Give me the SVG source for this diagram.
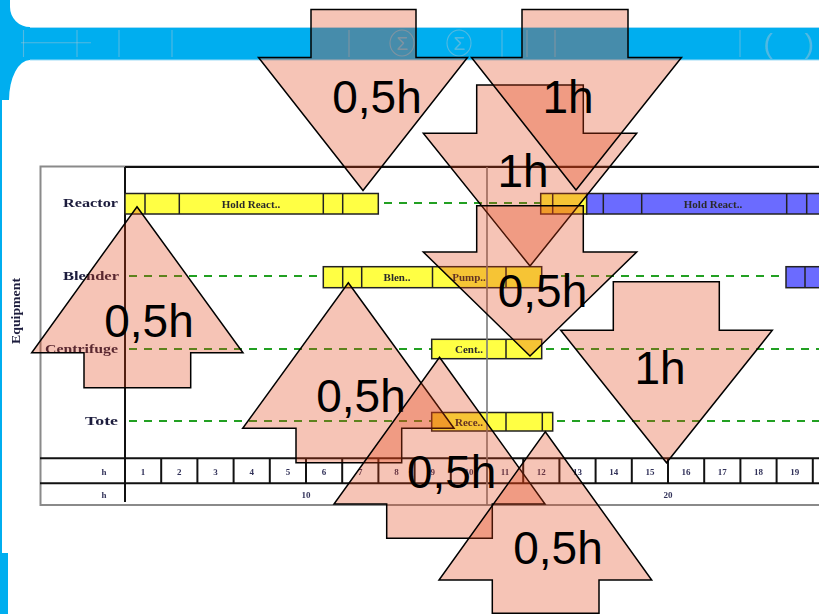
<svg xmlns="http://www.w3.org/2000/svg" width="819" height="614" viewBox="0 0 819 614">
  <defs>
    <style>
      .band-ghost { stroke: #b8c8d0; stroke-opacity: 0.45; stroke-width: 1.1; fill: none; }
      .ghost-txt { fill: #b8c8d0; fill-opacity: 0.45; font-family: "Liberation Sans", Arial, sans-serif; }
      .frame { fill: none; stroke: #8a8a8a; stroke-width: 2; }
      .grid { stroke: #111; stroke-width: 2; fill: none; }
      .now { stroke: #7a7a7a; stroke-width: 1.6; }
      .lane { stroke: #22a022; stroke-width: 2; stroke-dasharray: 8 7; }
      .bar-y { fill: #ffff44; stroke: #222; stroke-width: 1.5; }
      .bar-b { fill: #6b6bff; stroke: #222; stroke-width: 1.5; }
      .div { stroke: #222; stroke-width: 1.5; }
      .lbl { font-family: "Liberation Serif", "Times New Roman", serif; font-size: 13px; font-weight: bold; fill: #1c1c3c; filter: url(#soft); }
      .bartxt { font-family: "Liberation Serif", "Times New Roman", serif; font-size: 11px; font-weight: bold; fill: #2a2a2a; text-anchor: middle; filter: url(#soft); }
      .num { font-family: "Liberation Serif", "Times New Roman", serif; font-size: 9px; font-weight: bold; fill: #33335a; text-anchor: middle; filter: url(#soft); }
      .arrow { fill: rgb(226,64,19); fill-opacity: 0.31; stroke: #000; stroke-width: 1.5; stroke-linejoin: miter; }
      .dur { font-family: "Liberation Sans", Arial, sans-serif; font-size: 46px; fill: #000; text-anchor: middle; }
    </style>
    <filter id="soft" x="-10%" y="-30%" width="120%" height="160%">
      <feGaussianBlur stdDeviation="0.35"/>
    </filter>
  </defs>

  <!-- page background -->
  <rect x="0" y="0" width="819" height="614" fill="#ffffff"/>

  <!-- slide template: blue title band with rounded white panels -->
  <g id="template">
    <path d="M0,0 H10 V7 A20,20 0 0 0 30,27 H819 V60 H30 A21,40 0 0 0 9,100 H0 Z" fill="#00aeef"/>
    <rect x="0" y="100" width="2" height="453" fill="#00aeef"/>
    <rect x="0" y="553" width="8" height="61" fill="#00aeef"/>
    <line x1="30" y1="27.5" x2="819" y2="27.5" stroke="#9fdcf6" stroke-width="1"/>
    <line x1="30" y1="60" x2="819" y2="60" stroke="#9fdcf6" stroke-width="1"/>
    <!-- faded toolbar icons on the band -->
    <line class="band-ghost" x1="21" y1="42.7" x2="91" y2="42.7"/>
    <line class="band-ghost" x1="23.5" y1="30" x2="23.5" y2="57"/>
    <line class="band-ghost" x1="77" y1="30" x2="77" y2="57"/>
    <line class="band-ghost" x1="119" y1="30" x2="119" y2="57"/>
    <line class="band-ghost" x1="172" y1="30" x2="172" y2="57"/>
    <line class="band-ghost" x1="349" y1="30" x2="349" y2="57"/>
    <ellipse class="band-ghost" cx="402" cy="43" rx="12" ry="13"/>
    <ellipse class="band-ghost" cx="459" cy="43" rx="12" ry="13"/>
    <text class="ghost-txt" x="402" y="50" font-size="19" text-anchor="middle">Σ</text>
    <text class="ghost-txt" x="459" y="50" font-size="19" text-anchor="middle">Σ</text>
    <line class="band-ghost" x1="502" y1="30" x2="502" y2="57"/>
    <line class="band-ghost" x1="527" y1="30" x2="527" y2="57"/>
    <line class="band-ghost" x1="555" y1="30" x2="555" y2="57"/>
    <line class="band-ghost" x1="740" y1="30" x2="740" y2="57"/>
    <text class="ghost-txt" x="768" y="53" font-size="28" text-anchor="middle">(</text>
    <text class="ghost-txt" x="809" y="53" font-size="28" text-anchor="middle">)</text>
  </g>

  <!-- Gantt chart -->
  <g id="gantt">
    <!-- outer frame and axes -->
    <rect class="frame" x="40.5" y="166.5" width="800" height="338.5"/>
    <line class="grid" x1="125" y1="167" x2="819" y2="167"/>
    <line class="grid" x1="125" y1="167" x2="125" y2="502"/>
    <line class="grid" x1="40" y1="458.3" x2="819" y2="458.3"/>
    <line class="grid" x1="40" y1="483.3" x2="819" y2="483.3"/>

    <!-- hour cells -->
    <g id="hour-cells" class="grid">
      <line x1="161.2" y1="458.3" x2="161.2" y2="483.3"/>
      <line x1="197.4" y1="458.3" x2="197.4" y2="483.3"/>
      <line x1="233.6" y1="458.3" x2="233.6" y2="483.3"/>
      <line x1="269.8" y1="458.3" x2="269.8" y2="483.3"/>
      <line x1="306" y1="458.3" x2="306" y2="483.3"/>
      <line x1="342.2" y1="458.3" x2="342.2" y2="483.3"/>
      <line x1="378.4" y1="458.3" x2="378.4" y2="483.3"/>
      <line x1="414.6" y1="458.3" x2="414.6" y2="483.3"/>
      <line x1="450.8" y1="458.3" x2="450.8" y2="483.3"/>
      <line x1="487" y1="458.3" x2="487" y2="483.3"/>
      <line x1="523.2" y1="458.3" x2="523.2" y2="483.3"/>
      <line x1="559.4" y1="458.3" x2="559.4" y2="483.3"/>
      <line x1="595.6" y1="458.3" x2="595.6" y2="483.3"/>
      <line x1="631.8" y1="458.3" x2="631.8" y2="483.3"/>
      <line x1="668" y1="458.3" x2="668" y2="483.3"/>
      <line x1="704.2" y1="458.3" x2="704.2" y2="483.3"/>
      <line x1="740.4" y1="458.3" x2="740.4" y2="483.3"/>
      <line x1="776.6" y1="458.3" x2="776.6" y2="483.3"/>
      <line x1="812.8" y1="458.3" x2="812.8" y2="483.3"/>
    </g>
    <g id="hour-labels">
      <text class="num" x="104" y="475">h</text>
      <text class="num" x="104" y="498">h</text>
      <text class="num" x="143.1" y="475">1</text>
      <text class="num" x="179.3" y="475">2</text>
      <text class="num" x="215.5" y="475">3</text>
      <text class="num" x="251.7" y="475">4</text>
      <text class="num" x="287.9" y="475">5</text>
      <text class="num" x="324.1" y="475">6</text>
      <text class="num" x="360.3" y="475">7</text>
      <text class="num" x="396.5" y="475">8</text>
      <text class="num" x="432.7" y="475">9</text>
      <text class="num" x="468.9" y="475">10</text>
      <text class="num" x="505.1" y="475">11</text>
      <text class="num" x="541.3" y="475">12</text>
      <text class="num" x="577.5" y="475">13</text>
      <text class="num" x="613.7" y="475">14</text>
      <text class="num" x="649.9" y="475">15</text>
      <text class="num" x="686.1" y="475">16</text>
      <text class="num" x="722.3" y="475">17</text>
      <text class="num" x="758.5" y="475">18</text>
      <text class="num" x="794.7" y="475">19</text>
      <text class="num" x="306" y="498">10</text>
      <text class="num" x="668" y="498">20</text>
    </g>

    <!-- lane labels -->
    <text class="lbl" x="118" y="207" text-anchor="end" textLength="55" lengthAdjust="spacingAndGlyphs">Reactor</text>
    <text class="lbl" x="119" y="280" text-anchor="end" textLength="56" lengthAdjust="spacingAndGlyphs">Blender</text>
    <text class="lbl" x="118" y="353" text-anchor="end" textLength="73" lengthAdjust="spacingAndGlyphs">Centrifuge</text>
    <text class="lbl" x="118" y="425" text-anchor="end" textLength="33" lengthAdjust="spacingAndGlyphs">Tote</text>
    <text class="lbl" transform="translate(20,311) rotate(-90)" text-anchor="middle" font-size="12" textLength="66" lengthAdjust="spacingAndGlyphs">Equipment</text>

    <!-- idle lanes -->
    <line class="lane" x1="384" y1="203" x2="540" y2="203"/>
    <line class="lane" x1="129" y1="276" x2="323" y2="276"/>
    <line class="lane" x1="546" y1="276" x2="786" y2="276"/>
    <line class="lane" x1="129" y1="349" x2="431" y2="349"/>
    <line class="lane" x1="546" y1="349" x2="819" y2="349"/>
    <line class="lane" x1="129" y1="421" x2="431" y2="421"/>
    <line class="lane" x1="557" y1="421" x2="819" y2="421"/>

    <!-- Reactor tasks -->
    <g id="reactor-bars">
      <rect class="bar-y" x="125" y="193.5" width="253.3" height="20.5"/>
      <line class="div" x1="145" y1="193.5" x2="145" y2="214"/>
      <line class="div" x1="179.3" y1="193.5" x2="179.3" y2="214"/>
      <line class="div" x1="323.3" y1="193.5" x2="323.3" y2="214"/>
      <line class="div" x1="342.7" y1="193.5" x2="342.7" y2="214"/>
      <text class="bartxt" x="251" y="207.5">Hold React..</text>
      <rect class="bar-y" x="540.7" y="193.5" width="46" height="20.5"/>
      <line class="div" x1="552.7" y1="193.5" x2="552.7" y2="214"/>
      <rect class="bar-b" x="586.7" y="193.5" width="250" height="20.5"/>
      <line class="div" x1="603.3" y1="193.5" x2="603.3" y2="214"/>
      <line class="div" x1="641.7" y1="193.5" x2="641.7" y2="214"/>
      <line class="div" x1="786.7" y1="193.5" x2="786.7" y2="214"/>
      <line class="div" x1="806.7" y1="193.5" x2="806.7" y2="214"/>
      <text class="bartxt" x="713" y="207.5">Hold React..</text>
    </g>

    <!-- Blender tasks -->
    <g id="blender-bars">
      <rect class="bar-y" x="323.3" y="266.7" width="218.4" height="21"/>
      <line class="div" x1="342.7" y1="266.7" x2="342.7" y2="287.7"/>
      <line class="div" x1="361.7" y1="266.7" x2="361.7" y2="287.7"/>
      <line class="div" x1="432.5" y1="266.7" x2="432.5" y2="287.7"/>
      <line class="div" x1="506" y1="266.7" x2="506" y2="287.7"/>
      <text class="bartxt" x="397" y="280.5">Blen..</text>
      <text class="bartxt" x="469" y="280.5">Pump..</text>
      <rect class="bar-b" x="786" y="266.7" width="50" height="21"/>
      <line class="div" x1="805" y1="266.7" x2="805" y2="287.7"/>
    </g>

    <!-- Centrifuge task -->
    <g id="centrifuge-bars">
      <rect class="bar-y" x="431.7" y="339.3" width="110" height="19.4"/>
      <line class="div" x1="506" y1="339.3" x2="506" y2="358.7"/>
      <text class="bartxt" x="469" y="352.5">Cent..</text>
    </g>

    <!-- Tote task -->
    <g id="tote-bars">
      <rect class="bar-y" x="431.7" y="412.5" width="121" height="18.5"/>
      <line class="div" x1="506" y1="412.5" x2="506" y2="431"/>
      <line class="div" x1="542.3" y1="412.5" x2="542.3" y2="431"/>
      <text class="bartxt" x="469" y="425.5">Rece..</text>
    </g>

    <!-- 10 h marker -->
    <line class="now" x1="487" y1="167" x2="487" y2="505"/>
  </g>

  <!-- duration arrows -->
  <g id="arrow-c">
    <polygon class="arrow" points="476.7,85 583.3,85 583.3,133.3 636.7,133.3 530,266 423.3,133.3 476.7,133.3"/>
    <text class="dur" x="523" y="186.7">1h</text>
  </g>
  <g id="arrow-a">
    <polygon class="arrow" points="311,9.5 416,9.5 416,57.5 467.5,57.5 363,190.5 258.5,57.5 311,57.5"/>
    <text class="dur" x="377" y="113">0,5h</text>
  </g>
  <g id="arrow-b">
    <polygon class="arrow" points="522,9.5 628,9.5 628,57.5 681.5,57.5 576,190 471.5,57.5 522,57.5"/>
    <text class="dur" x="568" y="113">1h</text>
  </g>
  <g id="arrow-d">
    <polygon class="arrow" points="137,206.7 243,352.7 190.7,352.7 190.7,387.7 84,387.7 84,352.7 31.7,352.7"/>
    <text class="dur" x="149" y="336.7">0,5h</text>
  </g>
  <g id="arrow-c2">
    <polygon class="arrow" points="476.7,205.7 583.3,205.7 583.3,252 636.7,252 530,356 423.3,252 476.7,252"/>
    <text class="dur" x="542.5" y="306.7">0,5h</text>
  </g>
  <g id="arrow-h">
    <polygon class="arrow" points="613.3,281.7 719.3,281.7 719.3,330.3 772.3,330.3 666.5,462.7 560.7,330.3 613.3,330.3"/>
    <text class="dur" x="660" y="384">1h</text>
  </g>
  <g id="arrow-e">
    <polygon class="arrow" points="348.3,282.7 454,428.3 401.7,428.3 401.7,462.7 296,462.7 296,428.3 242.7,428.3"/>
    <text class="dur" x="361" y="412.3">0,5h</text>
  </g>
  <g id="arrow-f">
    <polygon class="arrow" points="439.5,357.3 545,504 492.3,504 492.3,538.3 386.7,538.3 386.7,504 334,504"/>
    <text class="dur" x="451.7" y="487.7">0,5h</text>
  </g>
  <g id="arrow-g">
    <polygon class="arrow" points="545.3,431.7 651.7,580 599,580 599,613.3 492.3,613.3 492.3,580 439,580"/>
    <text class="dur" x="558" y="564.3">0,5h</text>
  </g>
</svg>
